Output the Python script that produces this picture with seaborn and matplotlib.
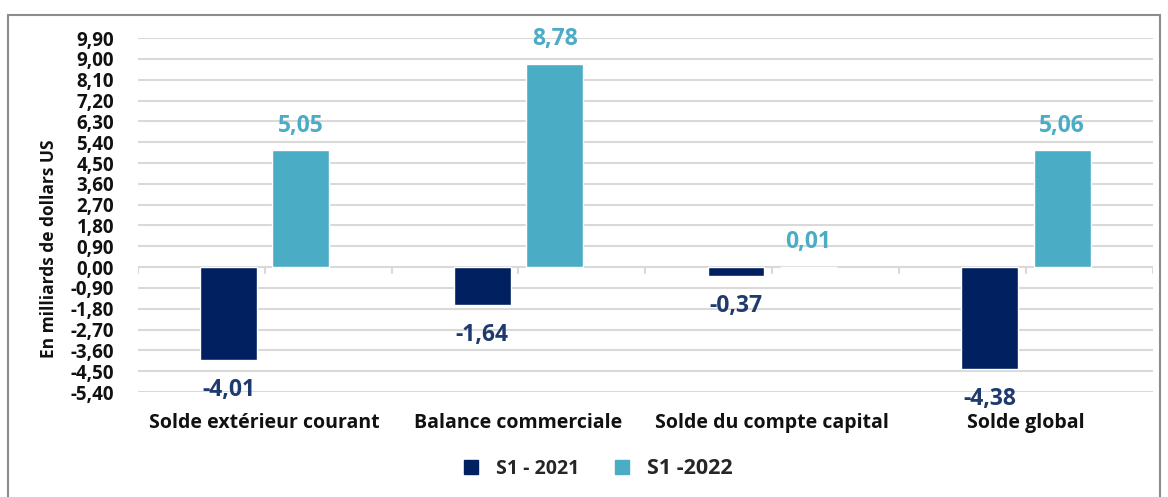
import numpy as np
import pandas as pd
import matplotlib
matplotlib.use("Agg")
import matplotlib.pyplot as plt
import seaborn as sns
from matplotlib.patches import Rectangle
from matplotlib.ticker import FuncFormatter, FixedLocator
from matplotlib.transforms import ScaledTranslation

categories = ["Solde extérieur courant", "Balance commerciale",
              "Solde du compte capital", "Solde global"]
series = ["S1 - 2021", "S1 -2022"]
values_2021 = [-4.01, -1.64, -0.37, -4.38]
values_2022 = [5.05, 8.78, 0.01, 5.06]
y_ticks = np.round(np.arange(-5.4, 9.91, 0.9), 2)

colors = ["#002060", "#4BACC6"]
label_colors = ["#1F3A6E", "#4BACC6"]


def fmt(v):
    return f"{v:.2f}".replace(".", ",").replace("-0,00", "0,00")


def main() -> None:
    sns.set_theme(style="white")
    plt.rcParams["font.family"] = ["Open Sans", "DejaVu Sans"]

    df = pd.DataFrame({
        "cat": categories * 2,
        "serie": [series[0]] * 4 + [series[1]] * 4,
        "val": values_2021 + values_2022,
    })

    fig = plt.figure(figsize=(11.68, 4.97), dpi=100)
    ax = fig.add_axes([0.118, 0.211, 0.869, 0.7125])

    sns.barplot(data=df, x="cat", y="val", hue="serie", palette=colors,
                width=0.571, gap=0.214, ax=ax, legend=False, saturation=1)

    ax.set_ylim(-5.4, 9.9)
    ax.set_xlim(-0.5, 3.5)
    ax.yaxis.set_major_locator(FixedLocator(y_ticks))
    ax.yaxis.set_major_formatter(FuncFormatter(lambda v, p: fmt(v)))
    ax.grid(axis="y", color="#D9D9D9", linewidth=1.5)
    ax.set_axisbelow(True)
    for s in ax.spines.values():
        s.set_visible(False)
    ax.tick_params(axis="y", length=0, pad=17, labelsize=13.5, labelcolor="#111111")
    for t in ax.get_yticklabels():
        t.set_fontweight("bold")

    # small category ticks on the zero line
    for xt in np.arange(-0.5, 3.6, 0.5):
        ax.plot([xt, xt], [0, -0.25], color="#D9D9D9", linewidth=1.5, zorder=0)

    ax.set_xticks(range(len(categories)))
    ax.set_xticklabels([])
    ax.tick_params(axis="x", length=0)
    shift = ScaledTranslation(0, -0.31, fig.dpi_scale_trans)
    for i, c in enumerate(categories):
        ax.text(i, -5.4, c, transform=ax.transData + shift, ha="center", va="center",
                fontsize=14, fontweight="bold", color="#111111")

    ax.set_xlabel("")
    ax.set_ylabel("En milliards de dollars US", fontsize=12.5, fontweight="bold",
                  color="#111111")
    ax.yaxis.set_label_coords(-0.079, 0.404)

    for k, cont in enumerate(ax.containers):
        for bar, v in zip(cont, [values_2021, values_2022][k]):
            x = bar.get_x() + bar.get_width() / 2
            off = 9 if v >= 0 else -13
            ax.annotate(fmt(v), (x, v), xytext=(0, off),
                        textcoords="offset points", ha="center",
                        va="bottom" if v >= 0 else "top",
                        fontsize=16.5, fontweight="bold", color=label_colors[k])

    # legend
    handles = [plt.Line2D([], [], marker="s", linestyle="", markersize=9.5,
                          color=c) for c in colors]
    leg = fig.legend(handles, series, loc="center", bbox_to_anchor=(0.507, 0.058),
                     ncol=2, frameon=False, handletextpad=0.3, columnspacing=1.2,
                     prop={"weight": "bold", "size": 14})
    leg.get_texts()[1].set_fontsize(15.5)

    fig.patches.append(Rectangle((0.007, -0.05), 0.986, 1.02, transform=fig.transFigure,
                                 fill=False, edgecolor="#8C8C8C", linewidth=1.5))

    fig.savefig("out.png", dpi=100)


if __name__ == "__main__":
    main()
